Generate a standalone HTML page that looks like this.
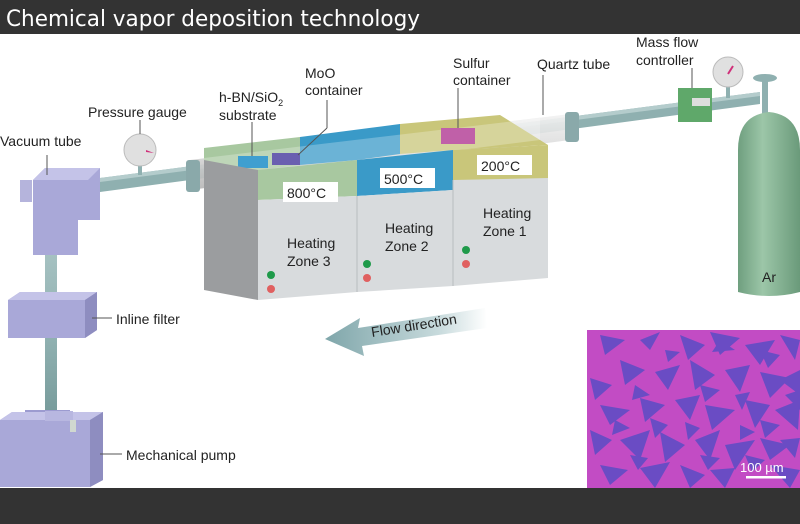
<!DOCTYPE html>
<html><head><meta charset="utf-8"><style>
html,body{margin:0;padding:0;background:#fff;width:800px;height:524px;overflow:hidden}
svg{display:block}
text{font-family:"Liberation Sans",sans-serif;fill:#222}
</style></head><body>
<svg width="800" height="524" viewBox="0 0 800 524" xmlns="http://www.w3.org/2000/svg">
<defs>
<linearGradient id="tube" x1="0" y1="0" x2="0" y2="1"><stop offset="0" stop-color="#a9c4c4"/><stop offset="0.5" stop-color="#8fb0b0"/><stop offset="1" stop-color="#6f9494"/></linearGradient>
<linearGradient id="cyl" x1="0" y1="0" x2="1" y2="0"><stop offset="0" stop-color="#6f9f7f"/><stop offset="0.4" stop-color="#9cc6a8"/><stop offset="1" stop-color="#6a9a7a"/></linearGradient>
<linearGradient id="arr" x1="0" y1="0" x2="1" y2="0"><stop offset="0" stop-color="#7fa6aa"/><stop offset="0.7" stop-color="#c7dadc"/><stop offset="1" stop-color="#ffffff"/></linearGradient>
<linearGradient id="qt" x1="0" y1="0" x2="0" y2="1"><stop offset="0" stop-color="#f2f2f2"/><stop offset="0.5" stop-color="#d8d8d8"/><stop offset="1" stop-color="#b5b5b5"/></linearGradient>
</defs>
<rect x="0" y="0" width="800" height="34" fill="#333"/>
<text x="6" y="26" font-size="22" textLength="414" lengthAdjust="spacingAndGlyphs" style="fill:#fff;font-family:'DejaVu Sans',sans-serif">Chemical vapor deposition technology</text>
<rect x="0" y="488" width="800" height="36" fill="#333"/>

<rect x="45" y="240" width="12" height="200" fill="url(#tube)"/>
<polygon points="100,178 760,92 760,104 100,192" fill="#8fb0b0"/>
<polygon points="100,178 760,92 760,96 100,182" fill="#b4cccc"/>
<polygon points="190,160 570,114 570,140 190,190" fill="url(#qt)" opacity="0.9"/>
<rect x="565" y="112" width="14" height="30" rx="3" fill="#8aa9aa"/>
<rect x="186" y="160" width="14" height="32" rx="3" fill="#8aa9aa"/>
<polygon points="204,148 300,137 300,165 258,170 204,168" fill="#a8c8a0"/>
<polygon points="300,137 400,124 400,154 357,160 300,165" fill="#3a9ac8"/>
<polygon points="400,124 500,115 548,145 453,150 400,154" fill="#c9c67a"/>
<polygon points="204,158 540,118 540,140 204,182" fill="#ffffff" opacity="0.25"/>
<rect x="238" y="156" width="30" height="12" fill="#3f9fd0"/>
<rect x="272" y="153" width="28" height="12" fill="#6a5fb0"/>
<rect x="441" y="128" width="34" height="16" fill="#c060a8"/>
<polygon points="204,160 258,170 258,300 204,290" fill="#9b9d9f"/>
<polygon points="258,170 357,160 357,196 258,200" fill="#a8c8a0"/>
<polygon points="357,160 453,150 453,190 357,196" fill="#3a9ac8"/>
<polygon points="453,150 548,145 548,180 453,190" fill="#c9c67a"/>
<polygon points="258,200 357,196 357,292 258,300" fill="#d8dbdd"/>
<polygon points="357,196 453,190 453,286 357,292" fill="#d8dbdd"/>
<polygon points="453,180 548,178 548,278 453,286" fill="#d8dbdd"/>
<line x1="357" y1="196" x2="357" y2="292" stroke="#b8bcbe"/>
<line x1="453" y1="180" x2="453" y2="286" stroke="#b8bcbe"/>
<rect x="283" y="182" width="55" height="20" fill="#fff"/><text x="287" y="198" font-size="14">800°C</text>
<rect x="380" y="168" width="55" height="20" fill="#fff"/><text x="384" y="184" font-size="14">500°C</text>
<rect x="477" y="155" width="55" height="20" fill="#fff"/><text x="481" y="171" font-size="14">200°C</text>
<text x="287" y="248" font-size="14">Heating</text><text x="287" y="266" font-size="14">Zone 3</text>
<text x="385" y="233" font-size="14">Heating</text><text x="385" y="251" font-size="14">Zone 2</text>
<text x="483" y="218" font-size="14">Heating</text><text x="483" y="236" font-size="14">Zone 1</text>
<circle cx="271" cy="275" r="4" fill="#1f9a4a"/><circle cx="271" cy="289" r="4" fill="#e06060"/>
<circle cx="367" cy="264" r="4" fill="#1f9a4a"/><circle cx="367" cy="278" r="4" fill="#e06060"/>
<circle cx="466" cy="250" r="4" fill="#1f9a4a"/><circle cx="466" cy="264" r="4" fill="#e06060"/>
<polygon points="33,180 45,168 100,168 100,220 78,220 78,255 33,255" fill="#a9a8d8"/>
<polygon points="33,180 45,168 100,168 88,180" fill="#c4c3e8"/>
<rect x="20" y="180" width="12" height="22" fill="#b5b4dc"/>
<line x1="140" y1="150" x2="140" y2="175" stroke="#8fb0b0" stroke-width="4"/>
<circle cx="140" cy="150" r="16" fill="#e0e0e0" stroke="#bbb"/>
<polygon points="146,150 154,153 146,152" fill="#d0307a"/>
<polygon points="8,300 20,292 97,292 97,330 85,338 8,338" fill="#a9a8d8"/>
<polygon points="8,300 20,292 97,292 85,300" fill="#c4c3e8"/>
<polygon points="85,300 97,292 97,330 85,338" fill="#8e8dc0"/>
<line x1="92" y1="318" x2="112" y2="318" stroke="#555"/>
<text x="116" y="324" font-size="14">Inline filter</text>
<rect x="25" y="410" width="45" height="16" fill="#9c9bd0"/>
<polygon points="0,420 12,412 103,412 103,480 90,487 0,487" fill="#a9a8d8"/>
<polygon points="0,420 12,412 103,412 90,420" fill="#c4c3e8"/>
<polygon points="90,420 103,412 103,480 90,487" fill="#8e8dc0"/>
<rect x="45" y="411" width="28" height="10" fill="#b8b7e0"/>
<rect x="70" y="420" width="6" height="12" fill="#d0d8d0"/>
<line x1="100" y1="454" x2="122" y2="454" stroke="#555"/>
<text x="126" y="460" font-size="14">Mechanical pump</text>
<line x1="765" y1="78" x2="765" y2="140" stroke="#8fb0b0" stroke-width="6"/>
<ellipse cx="765" cy="78" rx="12" ry="4" fill="#8fb0b0"/>
<path d="M738,150 Q738,115 769,112 Q800,115 800,150 L800,292 Q769,300 738,292 Z" fill="url(#cyl)"/>
<text x="762" y="282" font-size="14">Ar</text>
<rect x="678" y="88" width="34" height="34" fill="#5fa86a"/>
<rect x="692" y="98" width="18" height="8" fill="#ddd"/>
<line x1="728" y1="73" x2="728" y2="98" stroke="#8fb0b0" stroke-width="4"/>
<circle cx="728" cy="72" r="15" fill="#e0e0e0" stroke="#bbb"/>
<line x1="728" y1="74" x2="733" y2="66" stroke="#d0307a" stroke-width="2"/>
<line x1="47" y1="155" x2="47" y2="175" stroke="#555"/>
<line x1="140" y1="120" x2="140" y2="134" stroke="#555"/>
<line x1="252" y1="122" x2="252" y2="156" stroke="#555"/>
<line x1="327" y1="100" x2="327" y2="128" stroke="#555"/><line x1="327" y1="128" x2="298" y2="155" stroke="#555"/>
<line x1="458" y1="88" x2="458" y2="128" stroke="#555"/>
<line x1="543" y1="75" x2="543" y2="115" stroke="#555"/>
<line x1="692" y1="68" x2="692" y2="88" stroke="#555"/>
<text x="0" y="146" font-size="14">Vacuum tube</text>
<text x="88" y="117" font-size="14">Pressure gauge</text>
<text x="219" y="102" font-size="14">h-BN/SiO<tspan font-size="9" dy="4">2</tspan></text>
<text x="219" y="120" font-size="14">substrate</text>
<text x="305" y="78" font-size="14">MoO</text><text x="305" y="95" font-size="14">container</text>
<text x="453" y="68" font-size="14">Sulfur</text><text x="453" y="85" font-size="14">container</text>
<text x="537" y="69" font-size="14">Quartz tube</text>
<text x="636" y="47" font-size="14">Mass flow</text><text x="636" y="65" font-size="14">controller</text>
<polygon points="325,339 360,318 358,328 485,308 487,328 362,346 364,356" fill="url(#arr)"/>
<text x="372" y="337" font-size="14" transform="rotate(-9 372 337)">Flow direction</text>
<rect x="587" y="330" width="213" height="158" fill="#c24cc4"/>
<g fill="#6a4cc4">
<polygon points="600,335 625,340 605,355"/><polygon points="640,340 660,332 650,350"/><polygon points="680,335 705,345 688,360"/>
<polygon points="710,332 740,338 720,355"/><polygon points="745,345 775,340 760,365"/><polygon points="780,335 800,340 795,360"/>
<polygon points="620,360 645,370 625,385"/><polygon points="655,372 680,365 668,390"/><polygon points="690,360 715,375 695,390"/>
<polygon points="725,370 750,365 740,392"/><polygon points="760,372 790,378 770,398"/><polygon points="590,378 612,385 595,400"/>
<polygon points="600,405 630,410 610,425"/><polygon points="640,398 665,405 645,422"/><polygon points="675,400 700,395 690,420"/>
<polygon points="705,405 735,410 712,430"/><polygon points="745,400 770,405 755,428"/><polygon points="775,410 800,400 798,430"/>
<polygon points="590,430 612,440 595,455"/><polygon points="620,440 650,430 640,460"/><polygon points="660,432 685,445 665,462"/>
<polygon points="695,440 720,430 710,460"/><polygon points="725,445 755,440 735,470"/><polygon points="760,438 790,445 770,460"/>
<polygon points="600,465 628,470 610,485"/><polygon points="640,468 670,462 655,488"/><polygon points="680,465 705,475 690,488"/>
<polygon points="710,470 735,468 725,488"/><polygon points="770,465 800,470 790,488"/>
<polygon points="780,380 800,370 800,395"/><polygon points="635,385 650,395 632,400"/>
<polygon points="720,340 735,350 712,352"/><polygon points="665,350 680,352 668,362"/><polygon points="700,385 720,390 705,402"/>
<polygon points="735,395 750,392 742,410"/><polygon points="760,420 780,425 765,438"/><polygon points="615,420 630,428 612,435"/>
<polygon points="650,418 668,425 655,438"/><polygon points="685,422 700,428 688,440"/><polygon points="740,425 755,432 740,440"/>
<polygon points="630,455 648,458 638,470"/><polygon points="700,455 720,458 708,470"/><polygon points="745,455 765,460 752,472"/>
<polygon points="780,440 800,438 795,458"/><polygon points="760,350 780,355 768,368"/><polygon points="785,395 800,390 800,410"/>
</g>
<text x="740" y="472" font-size="13" style="fill:#fff">100 µm</text>
<rect x="746" y="476" width="40" height="2.5" fill="#fff"/>
</svg>
</body></html>
